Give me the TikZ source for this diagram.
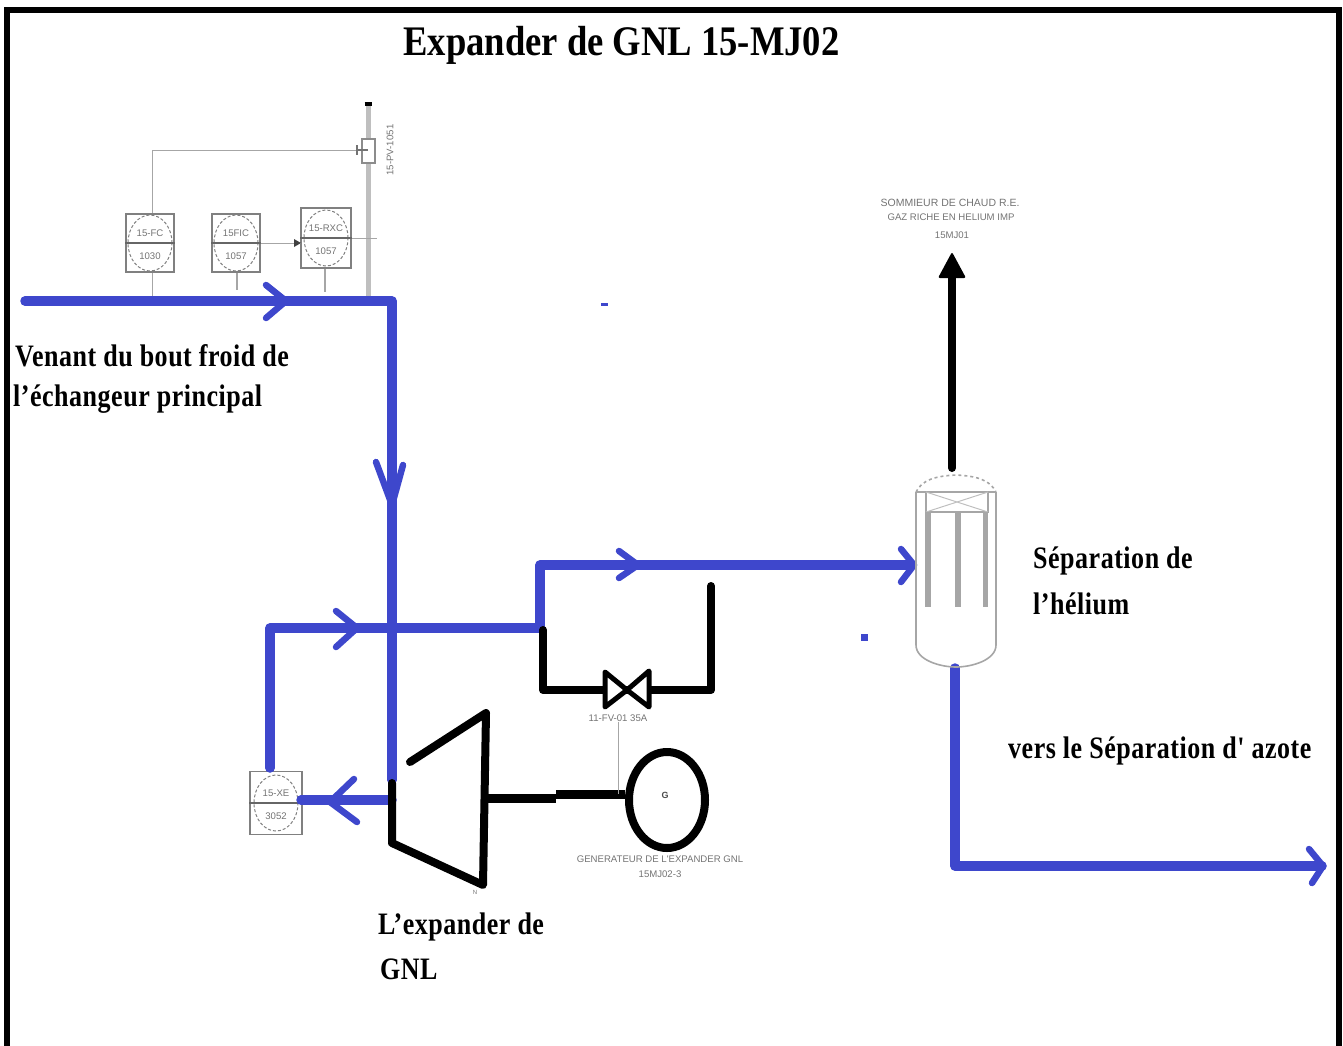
\documentclass[tikz,border=0pt]{standalone}
\usepackage{fontspec}
\usetikzlibrary{shapes.geometric}
\setmainfont{Liberation Serif}
\newfontfamily\labelfont[LetterSpace=2]{Liberation Serif}
\newfontfamily\tagfont{Liberation Sans}
\definecolor{gnlblue}{RGB}{62,71,204}
\tikzset{
    bluepipe/.style={draw=gnlblue, line width=9.5pt, line cap=round, line join=round},
    blackpipe/.style={draw=black, line width=8pt, line cap=round, line join=round},
    bluechevron/.style={draw=gnlblue, line width=6.5pt, line cap=round, line join=round},
    signalline/.style={draw=black!35, line width=1pt},
    vesselline/.style={draw=black!35, line width=1.6pt},
    inst/.style={draw=black!50, line width=1.2pt, minimum width=48pt, minimum height=58pt, inner sep=0pt},
    tagtext/.style={font=\tagfont\fontsize{9.6}{10}\selectfont, text=black!55, inner sep=0pt},
    biglabel/.style={font=\labelfont\bfseries\fontsize{26}{30}\selectfont, anchor=west, inner sep=0pt, yscale=1.2, transform shape},
}
\begin{document}
\begin{tikzpicture}[x=1pt, y=-1pt]
    \useasboundingbox (0,0) rectangle (1343,1045);

    % Frame
    \draw[line width=6pt] (7,1050) -- (7,10) -- (1339,10) -- (1339,1050);
    \node[font=\bfseries\fontsize{36.6}{40}\selectfont, inner sep=0pt, yscale=1.15, transform shape] (title) at (621.5,45) {Expander de GNL 15-MJ02};

    % Instruments on the inlet line
    \node[inst] (fc) at (150,243) {};
    \node[inst] (fic) at (236,243) {};
    \node[inst, minimum width=50pt, minimum height=60pt] (pic) at (326,238) {};
    \node[inst, minimum width=52pt, minimum height=63pt] (xe) at (276,803) {};
    \foreach \nm/\up/\dn in {fc/15-FC/1030, fic/15FIC/1057, pic/15-RXC/1057, xe/15-XE/3052} {
        \draw[black!50, densely dashed, line width=1pt] (\nm.center) ellipse (22pt and 28pt);
        \draw[black!60, line width=1.2pt] (\nm.west) -- (\nm.east);
        \node[tagtext] (\nm up) at ([yshift=10pt]\nm.center) {\up};
        \node[tagtext] (\nm dn) at ([yshift=-13pt]\nm.center) {\dn};
    }

    % Control valve and signal lines
    \coordinate (pipetop) at (368,104);
    \coordinate (pipebot) at (368,296);
    \coordinate (fctap) at (152,296);
    \coordinate (fictap) at (237,290);
    \coordinate (pictap) at (325,292);
    \coordinate (vlv) at (368,150);
    \coordinate (fcup) at (152,150);
    \coordinate (picin) at (301,243);
    \coordinate (picend) at (377,238);
    \draw[draw=black!25, line width=5pt] (pipetop) -- (pipebot);
    \draw[line width=3.5pt] ([xshift=-3.5pt]pipetop) -- ([xshift=3.5pt]pipetop);
    \draw[signalline] (fc.north -| fcup) -- (fcup) -- (vlv);
    \draw[signalline] (fc.south -| fctap) -- (fctap);
    \draw[signalline, line width=1.5pt] (fic.south -| fictap) -- (fictap);
    \draw[signalline, line width=1.5pt] (pic.south -| pictap) -- (pictap);
    \draw[signalline] (fic.east) -- (picin);
    \draw[signalline] (pic.east) -- (picend);
    \fill[black!75] ([xshift=-7pt,yshift=-4pt]picin) -- ([xshift=-7pt,yshift=4pt]picin) -- (picin) -- cycle;
    \draw[black!45, line width=1.2pt, fill=white] (362,139) rectangle (375,163);
    \draw[black!55, line width=1.2pt] (vlv) -- (357,150) (357,145) -- (357,155);
    \node[tagtext, rotate=90] (pvtag) at (390,150) {15-PV-1051};

    % Blue process lines
    \coordinate (inlet) at (25,301);
    \coordinate (elbow) at (392,301);
    \coordinate (expin) at (392,780);
    \coordinate (expout) at (392,800);
    \coordinate (xeout) at (301,800);
    \coordinate (xetop) at (270,768);
    \coordinate (lefttop) at (270,628);
    \coordinate (tee) at (540,628);
    \coordinate (teetop) at (540,565);
    \coordinate (sepin) at (912,565);
    \coordinate (sepout) at (955,668);
    \coordinate (sepdown) at (955,866);
    \coordinate (outlet) at (1322,866);
    \draw[bluepipe] (inlet) -- (elbow) -- (expin);
    \draw[bluepipe] (xetop) -- (lefttop) -- (tee) -- (teetop) -- (sepin);
    \draw[bluepipe] (expout) -- (xeout);
    \draw[bluepipe] (sepout) -- (sepdown) -- (outlet);

    % Flow chevrons: arm, tip, arm
    \foreach \ax/\ay/\tx/\ty/\bx/\by in {266/285/286/301/266/318, 376/462/392/505/403/465,
        336/611/357/628/336/647, 619/551/638/565/619/578, 354/779/330/802/357/822,
        901/549/914/565/901/582, 1309/849/1323/866/1312/883} {
        \draw[bluechevron] (\ax,\ay) -- (\tx,\ty) -- (\bx,\by);
    }
    \fill[gnlblue] (861,634) rectangle (868,641);
    \fill[gnlblue] (601,303) rectangle (608,306);

    % Expander and generator
    \coordinate (ea) at (392,783);
    \coordinate (eb) at (392,843);
    \coordinate (ec) at (483,885);
    \coordinate (ed) at (486,713);
    \coordinate (ee) at (410,762);
    \coordinate (shafta) at (483,798);
    \coordinate (shaftb) at (556,794);
    \draw[blackpipe] (ea) -- (eb) -- (ec) -- (ed) -- (ee);
    \node[draw, line width=8pt, ellipse, minimum width=76pt, minimum height=96pt, inner sep=0pt] (gen) at (667,800) {};
    \draw[blackpipe, line width=9pt, line cap=butt] (shafta) -- (shaftb |- shafta);
    \draw[blackpipe, line width=9pt, line cap=butt] (shaftb) -- (gen.west |- shaftb);
    \node[font=\tagfont\bfseries\fontsize{9}{9}\selectfont, text=black!70] (gtag) at (665,795) {G};
    \node[tagtext] (gentag) at (660,859) {GENERATEUR DE L'EXPANDER GNL};
    \node[tagtext] (gennum) at (660,874) {15MJ02-3};
    \node[tagtext, font=\tagfont\fontsize{6}{6}\selectfont] (ntag) at (475,892) {N};

    % Bypass with valve
    \coordinate (bpa) at (543,630);
    \coordinate (bpb) at (543,690);
    \coordinate (bpc) at (711,690);
    \coordinate (bpd) at (711,586);
    \draw[blackpipe] (bpa) -- (bpb) -- (bpc) -- (bpd);
    \draw[blackpipe, line width=5pt, fill=white] (605,672) -- (627,690) -- (605,707) -- cycle;
    \draw[blackpipe, line width=5pt, fill=white] (649,671) -- (627,690) -- (649,707) -- cycle;
    \node[tagtext] (valvetag) at (618,718) {11-FV-01 35A};
    \draw[signalline] (valvetag.south) -- (valvetag.south |- shaftb);

    % Separator
    \draw[vesselline] (916,492) -- (916,645) .. controls (916,660) and (940,667) .. (956,667)
        .. controls (972,667) and (996,660) .. (996,645) -- (996,492);
    \draw[vesselline, dashed] (916,492) .. controls (922,480) and (935,476) .. (956,475)
        .. controls (977,476) and (990,480) .. (996,492);
    \draw[vesselline] (916,492) -- (996,492);
    \draw[vesselline] (926,492) rectangle (988,512);
    \draw[draw=black!25, line width=1pt] (926,492) -- (988,512) (926,512) -- (988,492);
    \foreach \x/\w in {928/6, 958/6, 985/5} {
        \draw[draw=black!35, line width=\w pt] (\x,512) -- (\x,607);
    }

    % Helium outlet
    \coordinate (hetail) at (952,468);
    \coordinate (hetip) at (952,252);
    \draw[blackpipe] (hetail) -- (952,275);
    \fill[rounded corners=2pt] (hetip) -- (966,278) -- (938,278) -- cycle;
    \node[tagtext, font=\tagfont\fontsize{10.5}{11}\selectfont] (hea) at (950,203) {SOMMIEUR DE CHAUD R.E.};
    \node[tagtext] (heb) at (951,217) {GAZ RICHE EN HELIUM IMP};
    \node[tagtext] (hec) at (952,235) {15MJ01};

    % Labels
    \node[biglabel] (lba) at (15,356) {Venant du bout froid de};
    \node[biglabel] (lbb) at (13,399) {l’échangeur principal};
    \node[biglabel] (lbc) at (1033,561) {Séparation de};
    \node[biglabel] (lbd) at (1033,604) {l’hélium};
    \node[biglabel] (lbe) at (1008,751) {vers le Séparation d' azote};
    \node[biglabel] (lbf) at (378,927) {L’expander de};
    \node[biglabel] (lbg) at (380,969) {GNL};
\end{tikzpicture}
\end{document}
